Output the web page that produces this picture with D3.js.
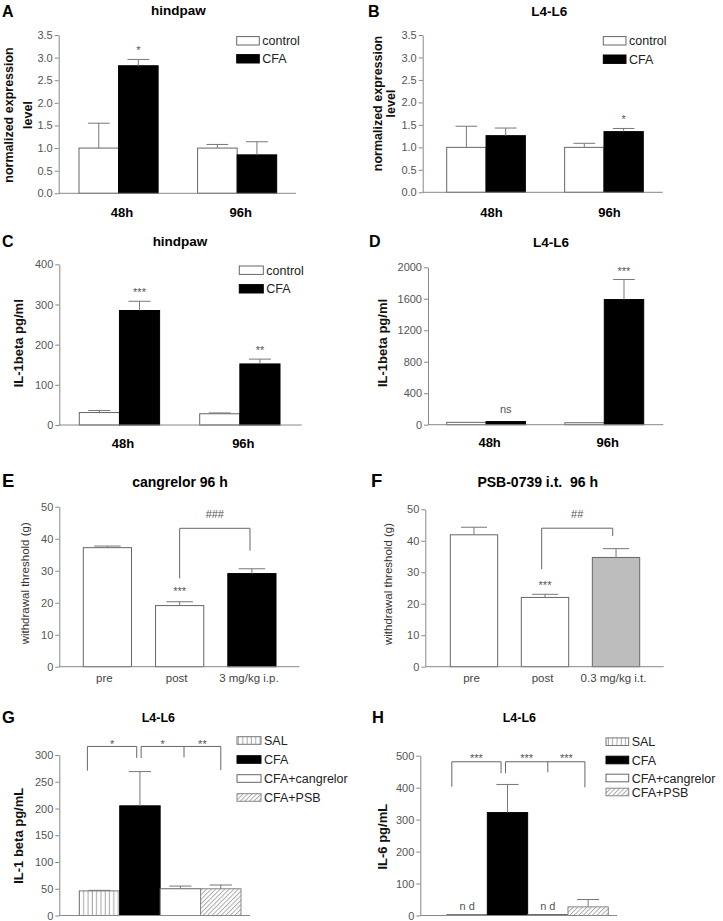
<!DOCTYPE html>
<html><head><meta charset="utf-8">
<script src="https://cdn.jsdelivr.net/npm/d3@7"></script>
<style>
body{margin:0;background:#fff}
svg{display:block}
</style></head><body>
<svg id="fig" width="723" height="921"></svg>
<script>
// ================= DATA =================
const timeGroups = ["48h", "96h"];
const twoSeries = ["control", "CFA"];

// A – hindpaw, normalized expression
const aControlMean = [1.0, 1.0];
const aControlSem  = [0.55, 0.08];
const aCfaMean     = [2.82, 0.85];
const aCfaSem      = [0.14, 0.29];
const aCfaSig      = ["*", ""];
const aTicks       = [0, 0.5, 1.0, 1.5, 2.0, 2.5, 3.0, 3.5];

// B – L4-L6, normalized expression
const bControlMean = [1.0, 1.0];
const bControlSem  = [0.47, 0.09];
const bCfaMean     = [1.26, 1.35];
const bCfaSem      = [0.17, 0.07];
const bCfaSig      = ["", "*"];
const bTicks       = [0, 0.5, 1.0, 1.5, 2.0, 2.5, 3.0, 3.5];

// C – hindpaw, IL-1beta pg/ml
const cControlMean = [31, 28];
const cControlSem  = [5, 2];
const cCfaMean     = [285, 152];
const cCfaSem      = [23, 12];
const cCfaSig      = ["***", "**"];
const cTicks       = [0, 100, 200, 300, 400];

// D – L4-L6, IL-1beta pg/ml
const dControlMean = [30, 25];
const dControlSem  = [0, 0];
const dCfaMean     = [40, 1590];
const dCfaSem      = [0, 255];
const dCfaSig      = ["ns", "***"];
const dTicks       = [0, 400, 800, 1200, 1600, 2000];

// E – cangrelor 96 h, withdrawal threshold (g)
const eCategories  = ["pre", "post", "3 mg/kg i.p."];
const eMean        = [37.2, 19.1, 29.1];
const eSem         = [0.5, 1.2, 1.5];
const eSig         = ["", "***", ""];
const eBracketText = ["###"];
const eTicks       = [0, 10, 20, 30, 40, 50];

// F – PSB-0739 i.t. 96 h, withdrawal threshold (g)
const fCategories  = ["pre", "post", "0.3 mg/kg i.t."];
const fMean        = [41.9, 22.0, 34.7];
const fSem         = [2.4, 1.0, 2.8];
const fSig         = ["", "***", ""];
const fBracketText = ["##"];
const fTicks       = [0, 10, 20, 30, 40, 50];

// G – L4-L6, IL-1 beta pg/mL
const treatments   = ["SAL", "CFA", "CFA+cangrelor", "CFA+PSB"];
const gMean        = [46, 205, 50, 50];
const gSem         = [1, 64, 5, 7];
const gSig         = ["", "", "", ""];
const gBracketText = ["*", "*", "**"];
const gTicks       = [0, 50, 100, 150, 200, 250, 300];

// H – L4-L6, IL-6 pg/mL
const hMean        = [3, 322, 3, 27];
const hSem         = [0, 88, 0, 23];
const hSig         = ["n d", "", "n d", ""];
const hBracketText = ["***", "***", "***"];
const hTicks       = [0, 100, 200, 300, 400, 500];

// ================= DRAWING =================
const FONT = "'Liberation Sans', Arial, Helvetica, sans-serif";
const svg = d3.select("#fig");
const defs = svg.append("defs");

const pv = defs.append("pattern").attr("id", "vhatch").attr("patternUnits", "userSpaceOnUse")
  .attr("width", 4.3).attr("height", 10);
pv.append("rect").attr("width", 4.3).attr("height", 10).attr("fill", "#fff");
pv.append("line").attr("x1", 2).attr("x2", 2).attr("y1", 0).attr("y2", 10)
  .attr("stroke", "#9a9a9a").attr("stroke-width", 0.9);

const pd = defs.append("pattern").attr("id", "dhatch").attr("patternUnits", "userSpaceOnUse")
  .attr("width", 3.2).attr("height", 3.2).attr("patternTransform", "rotate(45)");
pd.append("rect").attr("width", 3.2).attr("height", 3.2).attr("fill", "#fff");
pd.append("line").attr("x1", 0.5).attr("x2", 0.5).attr("y1", 0).attr("y2", 3.2)
  .attr("stroke", "#9a9a9a").attr("stroke-width", 0.8);

const STY = {
  white:  {fill: "#fff", stroke: "#666"},
  black:  {fill: "#000", stroke: "#000"},
  gray:   {fill: "#bdbdbd", stroke: "#666"},
  vhatch: {fill: "url(#vhatch)", stroke: "#777"},
  dhatch: {fill: "url(#dhatch)", stroke: "#888"}
};

function txt(g, x, y, s, o = {}) {
  return g.append("text").attr("x", x).attr("y", y).text(s)
    .attr("font-family", FONT).attr("font-size", o.size || 11)
    .attr("font-weight", o.weight || "normal").attr("fill", o.fill || "#000")
    .attr("text-anchor", o.anchor || "start").attr("xml:space", "preserve")
    .style("white-space", "pre");
}

function panel(c) {
  const g = svg.append("g");
  const y = d3.scaleLinear().domain([0, c.yMax]).range([c.yBottom, c.yTop]);
  const x0 = d3.scaleBand().domain(c.categories).range(c.barSpan)
    .paddingInner(c.padInner).paddingOuter(0);
  const x1 = d3.scaleBand().domain(c.series.map(s => s.name)).range([0, x0.bandwidth()]);
  const bx = (cat, f) => x0(cat) + f * x0.bandwidth();

  const bars = [];
  c.series.forEach(s => {
    c.categories.forEach((cat, i) => {
      bars.push({
        x: x0(cat) + x1(s.name), w: x1.bandwidth(),
        v: s.mean[i], e: s.sem[i], sig: s.sig ? s.sig[i] : "",
        style: s.styles ? s.styles[i] : s.style
      });
    });
  });

  g.selectAll("rect.bar").data(bars).join("rect").attr("class", "bar")
    .attr("x", d => d.x).attr("width", d => d.w)
    .attr("y", d => y(d.v)).attr("height", d => y(0) - y(d.v))
    .attr("fill", d => STY[d.style].fill).attr("stroke", d => STY[d.style].stroke)
    .attr("stroke-width", 1);

  const eb = bars.filter(d => d.e > 0);
  g.selectAll("line.err").data(eb).join("line").attr("class", "err")
    .attr("x1", d => d.x + d.w / 2).attr("x2", d => d.x + d.w / 2)
    .attr("y1", d => y(d.v)).attr("y2", d => y(d.v + d.e))
    .attr("stroke", "#777").attr("stroke-width", 1);
  g.selectAll("line.cap").data(eb).join("line").attr("class", "cap")
    .attr("x1", d => d.x + d.w / 2 - d.w * 0.275).attr("x2", d => d.x + d.w / 2 + d.w * 0.275)
    .attr("y1", d => y(d.v + d.e)).attr("y2", d => y(d.v + d.e))
    .attr("stroke", "#777").attr("stroke-width", 1);

  bars.filter(d => d.sig).forEach(d => {
    const extra = /[*#]/.test(d.sig) ? 0 : 3.5;
    txt(g, d.x + d.w / 2, y(d.v + d.e) - c.sigOffset - extra, d.sig,
      {size: 11, fill: "#555", anchor: "middle"});
  });

  // brackets
  if (c.brackets) {
    let li = 0;
    c.brackets.forEach(b => {
      const ty = y(b.top);
      const xs = b.legs.map(l => bx(l[0], l[1]));
      g.append("line").attr("x1", xs[0]).attr("x2", xs[xs.length - 1])
        .attr("y1", ty).attr("y2", ty).attr("stroke", "#666").attr("stroke-width", 1);
      b.legs.forEach((l, k) => {
        g.append("line").attr("x1", xs[k]).attr("x2", xs[k])
          .attr("y1", ty).attr("y2", y(l[2])).attr("stroke", "#666").attr("stroke-width", 1);
      });
      for (let k = 0; k < xs.length - 1; k++) {
        txt(g, (xs[k] + xs[k + 1]) / 2, ty + c.bracketLabelDy, c.bracketText[li++],
          {size: 11, fill: "#555", anchor: "middle"});
      }
    });
  }

  // axes
  const ax = g.append("g").attr("transform", `translate(${c.axisX},0)`)
    .call(d3.axisLeft(y).tickValues(c.ticks).tickFormat(c.fmt)
      .tickSize(4).tickSizeOuter(0).tickPadding(2));
  ax.attr("font-family", FONT).attr("font-size", 11);
  ax.select(".domain").attr("stroke", "#888");
  ax.selectAll(".tick line").attr("stroke", "#888");
  ax.selectAll(".tick text").attr("fill", "#555");
  g.append("line").attr("x1", c.axisX).attr("x2", c.axisEnd)
    .attr("y1", c.yBottom).attr("y2", c.yBottom).attr("stroke", "#888").attr("stroke-width", 1);

  // x labels
  if (c.xLabels) {
    c.categories.forEach(cat => {
      txt(g, x0(cat) + x0.bandwidth() / 2 + c.xLabelDx, c.xLabelY, cat,
        {size: c.xLabelSize, weight: c.xLabelWeight, fill: c.xLabelFill, anchor: "middle"});
    });
  }

  // title, letter
  txt(g, c.title[1], c.title[2], c.title[0], {size: c.titleSize, weight: "bold", anchor: "middle"});
  txt(g, c.letter[1], c.letter[2], c.letter[0], {size: c.letterSize, weight: "bold"});

  // y label
  c.yLabel.lines.forEach((ln, k) => {
    g.append("text").text(ln)
      .attr("transform", `translate(${c.yLabel.x[k]},${c.yLabel.cy}) rotate(-90)`)
      .attr("text-anchor", "middle").attr("font-family", FONT)
      .attr("font-size", c.yLabel.size).attr("font-weight", c.yLabel.weight)
      .attr("fill", c.yLabel.fill);
  });

  // legend
  if (c.legend) {
    const L = c.legend;
    L.items.forEach((it, k) => {
      const cy = L.rows[k];
      g.append("rect").attr("x", L.x).attr("y", cy - L.h / 2).attr("width", L.w).attr("height", L.h)
        .attr("fill", STY[it[1]].fill).attr("stroke", STY[it[1]].stroke).attr("stroke-width", 1);
      txt(g, L.x + L.w + 3, cy + 4.6, it[0], {size: 12.5, fill: "#222"});
    });
  }
}

const fmt1 = d3.format(".1f");
const fmt0 = d3.format("d");

// A
panel({
  categories: timeGroups, padInner: 0.333, barSpan: [79, 276.7],
  series: [
    {name: twoSeries[0], mean: aControlMean, sem: aControlSem, style: "white"},
    {name: twoSeries[1], mean: aCfaMean, sem: aCfaSem, sig: aCfaSig, style: "black"}
  ],
  yMax: 3.5, yBottom: 193.3, yTop: 35, axisX: 58.7, axisEnd: 296, ticks: aTicks, fmt: fmt1,
  sigOffset: 5,
  xLabels: true, xLabelDx: 3.5, xLabelY: 216.5, xLabelSize: 13, xLabelWeight: "bold", xLabelFill: "#000",
  title: ["hindpaw", 178.3, 15], titleSize: 13.5, letter: ["A", 2, 16.7], letterSize: 16,
  yLabel: {lines: ["normalized expression", "level"], x: [13, 32], cy: 115, size: 12.5, weight: "bold", fill: "#111"},
  legend: {x: 236.7, w: 22.6, h: 8.4, rows: [40.8, 58.8], items: [["control", "white"], ["CFA", "black"]]}
});

// B
panel({
  categories: timeGroups, padInner: 0.333, barSpan: [446.7, 643.3],
  series: [
    {name: twoSeries[0], mean: bControlMean, sem: bControlSem, style: "white"},
    {name: twoSeries[1], mean: bCfaMean, sem: bCfaSem, sig: bCfaSig, style: "black"}
  ],
  yMax: 3.5, yBottom: 192.3, yTop: 35, axisX: 422.7, axisEnd: 662.7, ticks: bTicks, fmt: fmt1,
  sigOffset: 5.5,
  xLabels: true, xLabelDx: 5.5, xLabelY: 216.5, xLabelSize: 13, xLabelWeight: "bold", xLabelFill: "#000",
  title: ["L4-L6", 549.3, 16], titleSize: 13.5, letter: ["B", 368, 16.7], letterSize: 16,
  yLabel: {lines: ["normalized expression", "level"], x: [382, 395], cy: 103.5, size: 12.5, weight: "bold", fill: "#111"},
  legend: {x: 603.3, w: 22.7, h: 8.4, rows: [40.8, 59.2], items: [["control", "white"], ["CFA", "black"]]}
});

// C
panel({
  categories: timeGroups, padInner: 0.333, barSpan: [79.3, 280],
  series: [
    {name: twoSeries[0], mean: cControlMean, sem: cControlSem, style: "white"},
    {name: twoSeries[1], mean: cCfaMean, sem: cCfaSem, sig: cCfaSig, style: "black"}
  ],
  yMax: 400, yBottom: 425, yTop: 264.3, axisX: 59.3, axisEnd: 301.7, ticks: cTicks, fmt: fmt0,
  sigOffset: 5.5,
  xLabels: true, xLabelDx: 3.5, xLabelY: 447.5, xLabelSize: 13, xLabelWeight: "bold", xLabelFill: "#000",
  title: ["hindpaw", 180, 246], titleSize: 13.5, letter: ["C", 2, 247.3], letterSize: 16,
  yLabel: {lines: ["IL-1beta pg/ml"], x: [22.5], cy: 343.3, size: 13, weight: "bold", fill: "#111"},
  legend: {x: 239.3, w: 24, h: 8.4, rows: [270.2, 288.8], items: [["control", "white"], ["CFA", "black"]]}
});

// D
panel({
  categories: timeGroups, padInner: 0.333, barSpan: [446.7, 643.7],
  series: [
    {name: twoSeries[0], mean: dControlMean, sem: dControlSem, style: "white"},
    {name: twoSeries[1], mean: dCfaMean, sem: dCfaSem, sig: dCfaSig, style: "black"}
  ],
  yMax: 2000, yBottom: 424.7, yTop: 267.3, axisX: 428, axisEnd: 663.3, ticks: dTicks, fmt: fmt0,
  sigOffset: 4.8,
  xLabels: true, xLabelDx: 3.5, xLabelY: 447, xLabelSize: 13, xLabelWeight: "bold", xLabelFill: "#000",
  title: ["L4-L6", 551, 246.7], titleSize: 13.5, letter: ["D", 369, 246.7], letterSize: 16,
  yLabel: {lines: ["IL-1beta pg/ml"], x: [387], cy: 343, size: 13, weight: "bold", fill: "#111"}
});

// E
panel({
  categories: eCategories, padInner: 0.333, barSpan: [83.3, 276],
  series: [{name: "E", mean: eMean, sem: eSem, sig: eSig, styles: ["white", "white", "black"]}],
  yMax: 50, yBottom: 666.7, yTop: 506.7, axisX: 59.3, axisEnd: 299.3, ticks: eTicks, fmt: fmt0,
  sigOffset: 7,
  brackets: [{top: 43.25, legs: [["post", 0.5, 27.6], ["3 mg/kg i.p.", 0.46, 36.25]]}],
  bracketText: eBracketText, bracketLabelDy: -10,
  xLabels: true, xLabelDx: -3, xLabelY: 681.7, xLabelSize: 11.5, xLabelWeight: "normal", xLabelFill: "#444",
  title: ["cangrelor 96 h", 180, 486.7], titleSize: 14, letter: ["E", 2, 486.7], letterSize: 18.5,
  yLabel: {lines: ["withdrawal threshold (g)"], x: [28.5], cy: 583.3, size: 11.5, weight: "normal", fill: "#333"}
});

// F
panel({
  categories: fCategories, padInner: 0.333, barSpan: [450.3, 639.7],
  series: [{name: "F", mean: fMean, sem: fSem, sig: fSig, styles: ["white", "white", "gray"]}],
  yMax: 50, yBottom: 666.7, yTop: 509.3, axisX: 425.3, axisEnd: 663.7, ticks: fTicks, fmt: fmt0,
  sigOffset: 5,
  brackets: [{top: 44.0, legs: [["post", 0.43, 31.0], ["0.3 mg/kg i.t.", 0.43, 41.5]]}],
  bracketText: fBracketText, bracketLabelDy: -10,
  xLabels: true, xLabelDx: -2.5, xLabelY: 681.7, xLabelSize: 11.5, xLabelWeight: "normal", xLabelFill: "#444",
  title: ["PSB-0739 i.t.  96 h", 537.7, 487.3], titleSize: 14, letter: ["F", 371, 487], letterSize: 18.5,
  yLabel: {lines: ["withdrawal threshold (g)"], x: [392], cy: 584, size: 11.5, weight: "normal", fill: "#333"}
});

// G
panel({
  categories: treatments, padInner: 0, barSpan: [79.3, 241],
  series: [{name: "G", mean: gMean, sem: gSem, sig: gSig, styles: ["vhatch", "black", "white", "dhatch"]}],
  yMax: 300, yBottom: 915.5, yTop: 755, axisX: 59.3, axisEnd: 250, ticks: gTicks, fmt: fmt0,
  sigOffset: 5,
  brackets: [
    {top: 316, legs: [["SAL", 0.2, 270.8], ["CFA", 0.42, 294.4]]},
    {top: 316, legs: [["CFA", 0.53, 294.4], ["CFA+cangrelor", 0.59, 295.5], ["CFA+PSB", 0.5, 272]]}
  ],
  bracketText: gBracketText, bracketLabelDy: 1.5,
  xLabels: false,
  title: ["L4-L6", 158.3, 721.7], titleSize: 12.5, letter: ["G", 2, 723.3], letterSize: 16.5,
  yLabel: {lines: ["IL-1 beta pg/mL"], x: [22.5], cy: 835.8, size: 13, weight: "bold", fill: "#111"},
  legend: {x: 237, w: 24, h: 7.6, rows: [740.5, 759.5, 778.5, 797.5],
    items: [["SAL", "vhatch"], ["CFA", "black"], ["CFA+cangrelor", "white"], ["CFA+PSB", "dhatch"]]}
});

// H
panel({
  categories: treatments, padInner: 0, barSpan: [447, 608.3],
  series: [{name: "H", mean: hMean, sem: hSem, sig: hSig, styles: ["vhatch", "black", "white", "dhatch"]}],
  yMax: 500, yBottom: 915.5, yTop: 755.7, axisX: 420.3, axisEnd: 617, ticks: hTicks, fmt: fmt0,
  sigOffset: 1,
  brackets: [
    {top: 481, legs: [["SAL", 0.12, 403], ["CFA", 0.34, 445]]},
    {top: 481, legs: [["CFA", 0.45, 445], ["CFA+cangrelor", 0.5, 448], ["CFA+PSB", 0.42, 401]]}
  ],
  bracketText: hBracketText, bracketLabelDy: 0,
  xLabels: false,
  title: ["L4-L6", 519.3, 721.7], titleSize: 12.5, letter: ["H", 372, 722.7], letterSize: 16.5,
  yLabel: {lines: ["IL-6 pg/mL"], x: [386.5], cy: 836.7, size: 13, weight: "bold", fill: "#111"},
  legend: {x: 606, w: 22.7, h: 7.6, rows: [741.7, 760, 778, 792],
    items: [["SAL", "vhatch"], ["CFA", "black"], ["CFA+cangrelor", "white"], ["CFA+PSB", "dhatch"]]}
});
</script>
</body></html>
